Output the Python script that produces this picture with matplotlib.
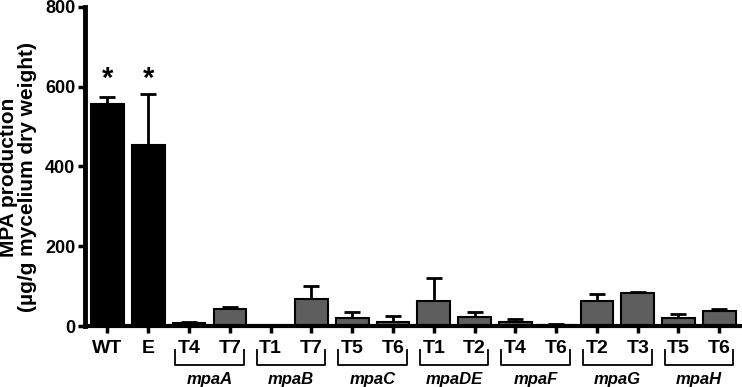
import matplotlib
matplotlib.use("Agg")
import matplotlib.pyplot as plt
import numpy as np

plt.rcParams['font.family'] = ['Liberation Sans', 'DejaVu Sans']

tick_labels = ["WT", "E", "T4", "T7", "T1", "T7", "T5", "T6", "T1", "T2", "T4", "T6", "T2", "T3", "T5", "T6"]
values = [557, 453, 8, 43, 0, 68, 20, 10, 62, 22, 10, 3, 63, 82, 20, 38]
errors = [18, 130, 2, 4, 0, 32, 15, 15, 58, 13, 8, 1, 17, 3, 10, 5]
groups = ["mpaA", "mpaB", "mpaC", "mpaDE", "mpaF", "mpaG", "mpaH"]
star_level = 620

fig = plt.figure(figsize=(7.42, 3.87), dpi=100)
ax = fig.add_axes([0.1146, 0.1576, 0.885, 0.8244])

x = np.arange(len(values))
colors = ["black" if i < 2 else "#5e5e5e" for i in range(len(values))]
ax.bar(x, values, width=0.8, color=colors, edgecolor="black", linewidth=1.5, zorder=2)
ax.errorbar(x, values, yerr=[np.zeros(len(errors)), errors], fmt="none",
            ecolor="black", elinewidth=2, capsize=6, capthick=2, zorder=1)

for i in range(2):
    ax.text(i, star_level, "*", ha="center", va="center",
            fontsize=21, fontweight="bold")

ax.set_xlim(-0.55, len(values) - 0.45)
ax.set_ylim(0, 800)
ax.set_yticks([0, 200, 400, 600, 800])
ax.set_xticks(x)
ax.set_xticklabels(tick_labels, fontsize=14, fontweight="bold")
for t in ax.get_yticklabels():
    t.set_fontsize(13)
    t.set_fontweight("bold")
ax.tick_params(axis="both", width=2.5, length=5)
ax.tick_params(axis="x", pad=5)
ax.tick_params(axis="y", pad=2)

for s in ["top", "right"]:
    ax.spines[s].set_visible(False)
ax.spines["left"].set_linewidth(3.5)
ax.spines["bottom"].set_linewidth(3)

ax.set_ylabel("MPA production\n(µg/g mycelium dry weight)", fontsize=15,
              fontweight="bold", linespacing=1.0)
ax.yaxis.set_label_coords(-0.073, 0.467)

# group brackets
trans = ax.get_xaxis_transform()
for g, name in enumerate(groups):
    a = 2 + 2 * g
    b = a + 1
    xl, xr = a - 0.34, b + 0.34
    y_top, y_bot = -0.075, -0.122
    ax.plot([xl, xl, xr, xr], [y_top, y_bot, y_bot, y_top], color="black",
            lw=1.3, transform=trans, clip_on=False)
    ax.text((a + b) / 2, -0.182, name, transform=trans, ha="center", va="baseline",
            fontsize=12, fontweight="bold", style="italic")

fig.savefig("out.png", dpi=100)
